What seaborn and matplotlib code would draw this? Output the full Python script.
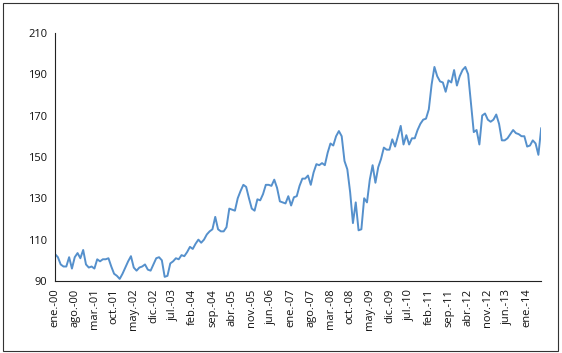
import matplotlib
matplotlib.use('Agg')
import matplotlib.pyplot as plt
import matplotlib.patches as patches
import pandas as pd
import seaborn as sns

# monthly index values, ene-2000 .. jun-2014
values = [
    103, 101.5, 98, 97, 97, 101.5, 96, 101.5, 103.5, 101, 105, 98,          # 2000
    96.5, 97, 96, 100.5, 99.5, 100.5, 100.5, 101, 97, 93.5, 92.5, 91,       # 2001
    93.5, 96.5, 99.5, 102, 96.5, 95, 96.5, 97, 98, 95.5, 95, 98,            # 2002
    101, 101.5, 100, 92, 92.5, 98.5, 99.5, 101, 100.5, 102.5, 102, 104,     # 2003
    106.5, 105.5, 108, 110, 108.5, 110, 112.5, 114, 115, 121, 115, 114,     # 2004
    114, 116, 125, 124.5, 124, 130, 133.5, 136.5, 135.5, 130, 125, 124,     # 2005
    129.5, 129, 132, 136.5, 136.5, 136, 139, 135, 128.5, 128, 127.5, 131,   # 2006
    126.5, 130.5, 131, 136, 139.5, 139.5, 141, 136.5, 142.5, 146.5, 146, 147,  # 2007
    146, 152, 156.5, 155.5, 160, 162.5, 160, 148, 144, 133, 118, 128,       # 2008
    114.5, 115, 130, 128, 139, 146, 137.5, 145, 149, 154.5, 153.5, 153.5,   # 2009
    158.5, 155, 160, 165, 156, 160.5, 156, 159, 159, 163, 166, 168,         # 2010
    168.5, 173, 185, 193.5, 189, 186.5, 186, 181.5, 187, 186, 192, 184.5,   # 2011
    189, 192, 193.5, 190, 176, 162, 163, 156, 170, 171, 168, 167,           # 2012
    168, 170.5, 166, 158, 158, 159, 161, 163, 161.5, 161, 160, 160,         # 2013
    155, 155.5, 158, 156.5, 151, 164,                                       # 2014
]

tick_labels = ['ene.-00', 'ago.-00', 'mar.-01', 'oct.-01', 'may.-02', 'dic.-02',
               'jul.-03', 'feb.-04', 'sep.-04', 'abr.-05', 'nov.-05', 'jun.-06',
               'ene.-07', 'ago.-07', 'mar.-08', 'oct.-08', 'may.-09', 'dic.-09',
               'jul.-10', 'feb.-11', 'sep.-11', 'abr.-12', 'nov.-12', 'jun.-13',
               'ene.-14']
y_ticks = [90, 110, 130, 150, 170, 190, 210]

df = pd.DataFrame({'mes': range(len(values)), 'valor': values})

sns.set_style('white')
plt.rcParams['font.family'] = ['Open Sans', 'DejaVu Sans']

fig = plt.figure(figsize=(5.62, 3.53), dpi=100)
ax = fig.add_axes([0.098, 0.204, 0.865, 0.703])

sns.lineplot(data=df, x='mes', y='valor', ax=ax, color='#5590CC', linewidth=1.4)

ax.set_xlim(0, len(values) - 1)
ax.set_ylim(90, 210)
ax.set_yticks(y_ticks)
ax.set_xticks(range(0, 7 * len(tick_labels), 7))
ax.set_xticklabels(tick_labels, rotation=90)
ax.set_xlabel('')
ax.set_ylabel('')

for side in ['top', 'right']:
    ax.spines[side].set_visible(False)
for side in ['left', 'bottom']:
    ax.spines[side].set_color('#222222')
    ax.spines[side].set_linewidth(0.8)
ax.tick_params(axis='both', direction='out', length=3.5, width=0.8,
               color='#222222', labelsize=8, labelcolor='#111111', pad=2)

# thin frame around the whole chart area
fig.patches.append(patches.Rectangle((0.006, 0.006), 0.987, 0.985,
                                     transform=fig.transFigure, fill=False,
                                     edgecolor='#333333', linewidth=0.8))

fig.savefig('out.png', dpi=100)
